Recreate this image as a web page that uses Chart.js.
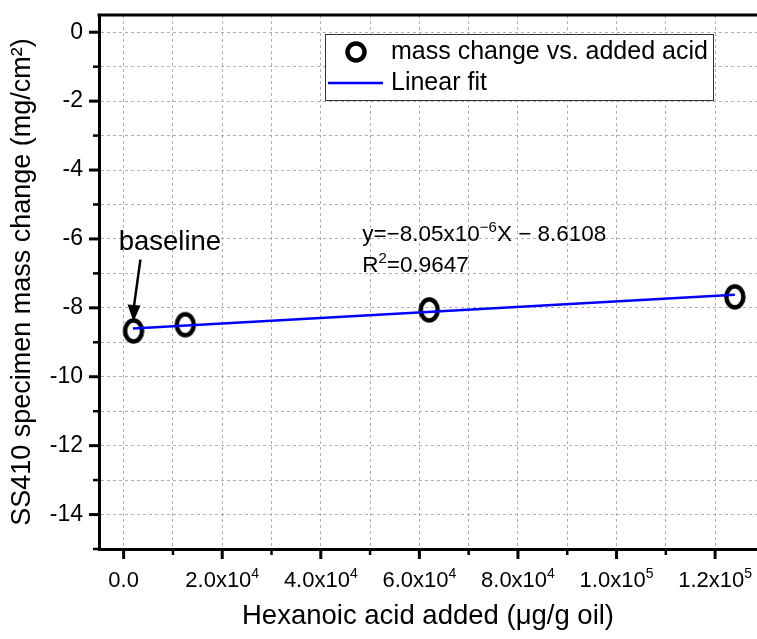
<!DOCTYPE html>
<html>
<head>
<meta charset="utf-8">
<script src="https://cdn.jsdelivr.net/npm/chart.js@4.4.1/dist/chart.umd.min.js"></script>
<style>
  html, body { margin: 0; padding: 0; background: #fff; }
  #myChart { display: block; }
</style>
</head>
<body>
<canvas id="myChart" width="757" height="639"></canvas>
<script>
// measured points: added acid (ug/g oil) vs mass change (mg/cm2)
var acidAdded = [2000, 12500, 62000, 124000];
var massChange = [-8.67, -8.49, -8.06, -7.68];

// linear fit end points
var fitX = [1900, 124000];
var fitY = [-8.60, -7.62];

// '^' marks the superscript part
var xTickValues = [0, 20000, 40000, 60000, 80000, 100000, 120000];
var xTickLabels = ['0.0', '2.0x10^4', '4.0x10^4', '6.0x10^4', '8.0x10^4', '1.0x10^5', '1.2x10^5'];
var yTickValues = [-14, -12, -10, -8, -6, -4, -2, 0];
var yTickLabels = ['-14', '-12', '-10', '-8', '-6', '-4', '-2', '0'];

var FONT = "'Liberation Sans', Arial, sans-serif";

// tall open ellipse used as the marker
function ellipseMarker() {
	var c = document.createElement('canvas');
	c.width = 26; c.height = 32;
	var g = c.getContext('2d');
	g.lineWidth = 4.5;
	g.strokeStyle = '#000';
	g.beginPath();
	g.ellipse(13, 16, 8.5, 10.5, 0, 0, Math.PI * 2);
	g.stroke();
	return c;
}

// draw text with superscript parts: parts = [[text, isSup], ...]
function richWidth(ctx, parts, size) {
	var w = 0;
	parts.forEach(function(p) {
		ctx.font = (p[1] ? Math.round(size * 0.65) : size) + 'px ' + FONT;
		w += ctx.measureText(p[0]).width;
	});
	return w;
}
function richText(ctx, parts, x, y, size) {
	var cx = x;
	parts.forEach(function(p) {
		var s = p[1] ? Math.round(size * 0.65) : size;
		ctx.font = s + 'px ' + FONT;
		ctx.fillText(p[0], cx, p[1] ? y - size * 0.42 : y);
		cx += ctx.measureText(p[0]).width;
	});
}
function splitSup(label) {
	var k = label.indexOf('^');
	if (k < 0) return [[label, false]];
	return [[label.slice(0, k), false], [label.slice(k + 1), true]];
}

var framePlugin = {
	id: 'frame',
	afterDraw: function(chart) {
		var ctx = chart.ctx, a = chart.chartArea;
		var xs = chart.scales.x, ys = chart.scales.y;
		ctx.save();
		ctx.strokeStyle = '#000';
		// top border
		ctx.lineWidth = 3;
		ctx.beginPath();
		ctx.moveTo(a.left - 1.5, a.top);
		ctx.lineTo(a.right, a.top);
		ctx.stroke();
		// x ticks
		for (var v = 0; v <= 120000; v += 10000) {
			var major = v % 20000 === 0;
			var px = xs.getPixelForValue(v);
			ctx.lineWidth = major ? 3 : 2.5;
			ctx.beginPath();
			ctx.moveTo(px, a.bottom);
			ctx.lineTo(px, a.bottom + (major ? 10 : 6));
			ctx.stroke();
		}
		// y ticks
		for (var w = -15; w <= 0; w++) {
			var maj = w % 2 === 0;
			var py = ys.getPixelForValue(w);
			ctx.lineWidth = maj ? 3 : 2.5;
			ctx.beginPath();
			ctx.moveTo(a.left, py);
			ctx.lineTo(a.left - (maj ? 10 : 6), py);
			ctx.stroke();
		}
		// x tick labels with superscripts
		ctx.fillStyle = '#000';
		ctx.textBaseline = 'alphabetic';
		xTickValues.forEach(function(val, i) {
			var parts = splitSup(xTickLabels[i]);
			var tw = richWidth(ctx, parts, 22);
			richText(ctx, parts, xs.getPixelForValue(val) - tw / 2, a.bottom + 38, 22);
		});

		// legend box
		var lx = a.left + 226, ly = a.top + 19, lw = 388, lh = 66;
		ctx.fillStyle = '#fff';
		ctx.fillRect(lx, ly, lw, lh);
		ctx.lineWidth = 1;
		ctx.strokeStyle = '#333';
		ctx.strokeRect(lx + 0.5, ly + 0.5, lw, lh);
		ctx.strokeStyle = '#000';
		ctx.lineWidth = 4.5;
		ctx.beginPath();
		ctx.arc(lx + 31, ly + 18, 8.5, 0, Math.PI * 2);
		ctx.stroke();
		ctx.strokeStyle = '#0000ff';
		ctx.lineWidth = 2.5;
		ctx.beginPath();
		ctx.moveTo(lx + 3, ly + 49);
		ctx.lineTo(lx + 58, ly + 49);
		ctx.stroke();
		ctx.fillStyle = '#000';
		ctx.textBaseline = 'middle';
		ctx.font = '25px ' + FONT;
		ctx.fillText('mass change vs. added acid', lx + 66, ly + 18);
		ctx.fillText('Linear fit', lx + 66, ly + 49);

		// fit equation
		ctx.textBaseline = 'alphabetic';
		var ex = xs.getPixelForValue(48400);
		richText(ctx, [['y=−8.05x10', false], ['−6', true], ['X − 8.6108', false]], ex, ys.getPixelForValue(-6.06), 22.5);
		richText(ctx, [['R', false], ['2', true], ['=0.9647', false]], ex, ys.getPixelForValue(-6.96), 22.5);

		// baseline label + arrow
		ctx.font = '27.5px ' + FONT;
		ctx.fillText('baseline', xs.getPixelForValue(-1000), ys.getPixelForValue(-6.32));
		var ax0 = xs.getPixelForValue(3400), ay0 = ys.getPixelForValue(-6.6);
		var ax1 = xs.getPixelForValue(2000), ay1 = ys.getPixelForValue(-8.4);
		ctx.strokeStyle = '#000';
		ctx.lineWidth = 2.5;
		ctx.beginPath();
		ctx.moveTo(ax0, ay0);
		ctx.lineTo(ax1, ay1 - 12);
		ctx.stroke();
		ctx.beginPath();
		ctx.moveTo(ax1, ay1);
		ctx.lineTo(ax1 - 6, ay1 - 17);
		ctx.lineTo(ax1 + 7, ay1 - 16);
		ctx.closePath();
		ctx.fill();
		ctx.restore();
	}
};

function noPad(scale) {
	scale.paddingLeft = 0;
	scale.paddingRight = 0;
	scale.paddingTop = 0;
	scale.paddingBottom = 0;
}

var scatterPts = acidAdded.map(function(x, i) { return { x: x, y: massChange[i] }; });
var fitPts = fitX.map(function(x, i) { return { x: x, y: fitY[i] }; });

var ctx = document.getElementById('myChart');
var myChart = new Chart(ctx, {
	type: 'scatter',
	data: {
		datasets: [
			{
				label: 'mass change vs. added acid',
				data: scatterPts,
				pointStyle: ellipseMarker(),
				order: 2
			},
			{
				type: 'line',
				label: 'Linear fit',
				data: fitPts,
				borderColor: '#0000ff',
				borderWidth: 2.5,
				pointRadius: 0,
				fill: false,
				order: 1
			}
		]
	},
	options: {
		responsive: false,
		animation: false,
		layout: { autoPadding: false, padding: { top: 15, right: 0, left: 0, bottom: 0 } },
		plugins: {
			legend: { display: false },
			tooltip: { enabled: false }
		},
		scales: {
			x: {
				type: 'linear',
				min: -5000,
				max: 128500,
				afterBuildTicks: function(scale) {
					var t = [];
					for (var v = 0; v <= 120000; v += 10000) t.push({ value: v });
					scale.ticks = t;
				},
				afterFit: function(scale) { scale.height = 90; noPad(scale); },
				ticks: {
					autoSkip: false,
					maxRotation: 0,
					padding: 17,
					color: 'rgba(0,0,0,0)',
					font: { family: FONT, size: 20 },
					callback: function() { return ''; }
				},
				grid: { color: '#b0b0b0', lineWidth: 1, drawTicks: false },
				border: { color: '#000', width: 3, dash: [3, 3] },
				title: {
					display: true,
					text: 'Hexanoic acid added (μg/g oil)',
					color: '#000',
					font: { family: FONT, size: 27.5 },
					padding: { top: 0, bottom: 6 }
				}
			},
			y: {
				type: 'linear',
				min: -15,
				max: 0.5,
				afterBuildTicks: function(scale) {
					var t = [];
					for (var v = -15; v <= 0; v++) t.push({ value: v });
					scale.ticks = t;
				},
				afterFit: function(scale) { scale.width = 99; noPad(scale); },
				ticks: {
					autoSkip: false,
					padding: 16,
					color: '#000',
					font: { family: FONT, size: 23 },
					callback: function(value) {
						var i = yTickValues.indexOf(value);
						return i >= 0 ? yTickLabels[i] : '';
					}
				},
				grid: { color: '#b0b0b0', lineWidth: 1, drawTicks: false },
				border: { color: '#000', width: 3, dash: [3, 3] },
				title: {
					display: true,
					text: 'SS410 specimen mass change (mg/cm²)',
					color: '#000',
					font: { family: FONT, size: 27 },
					padding: { top: 6, bottom: 0 }
				}
			}
		}
	},
	plugins: [framePlugin]
});
</script>
</body>
</html>
